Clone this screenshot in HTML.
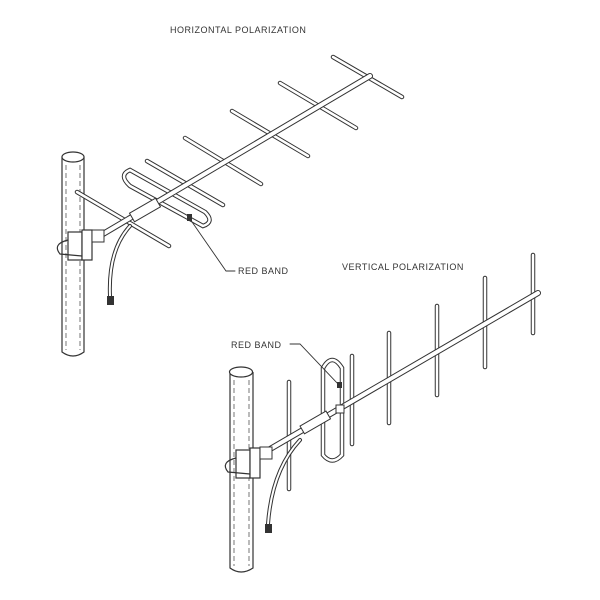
<!DOCTYPE html>
<html><head><style>body{margin:0;background:#fff}svg{display:block}</style></head><body>
<svg width="600" height="600" viewBox="0 0 600 600" xmlns="http://www.w3.org/2000/svg" font-family="Liberation Sans, sans-serif">
<defs>
<style>
.o{stroke:#333;fill:none;stroke-linecap:round}
.i{stroke:#fff;fill:none;stroke-linecap:round}
.t{font-size:9px;fill:#333;letter-spacing:0.5px}
</style>
</defs>
<rect width="600" height="600" fill="#fff"/>
<text class="t" x="170" y="33">HORIZONTAL  POLARIZATION</text>
<text class="t" x="238" y="274">RED  BAND</text>
<text class="t" x="342" y="270">VERTICAL  POLARIZATION</text>
<text class="t" x="231" y="348">RED  BAND</text>

<!-- TOP pole -->
<path d="M62 157 L62 352 Q73 360 84 352 L84 157" fill="#fff" stroke="#333" stroke-width="1.2"/>
<ellipse cx="73" cy="157" rx="11" ry="5" fill="#fff" stroke="#333" stroke-width="1.2"/>
<line x1="66" y1="165" x2="66" y2="350" stroke="#555" stroke-dasharray="5,3" stroke-width="0.8"/>
<line x1="80" y1="165" x2="80" y2="350" stroke="#555" stroke-dasharray="5,3" stroke-width="0.8"/>

<!-- top elements behind boom -->
<g>
<line class="o" stroke-width="4.5" x1="333" y1="57" x2="402" y2="97"/><line class="i" stroke-width="2.5" x1="333" y1="57" x2="402" y2="97"/>
<line class="o" stroke-width="4.5" x1="280" y1="83" x2="356" y2="128"/><line class="i" stroke-width="2.5" x1="280" y1="83" x2="356" y2="128"/>
<line class="o" stroke-width="4.5" x1="232" y1="111" x2="308" y2="156"/><line class="i" stroke-width="2.5" x1="232" y1="111" x2="308" y2="156"/>
<line class="o" stroke-width="4.5" x1="185" y1="138" x2="261" y2="184"/><line class="i" stroke-width="2.5" x1="185" y1="138" x2="261" y2="184"/>
<line class="o" stroke-width="4.5" x1="147" y1="161" x2="223" y2="205"/><line class="i" stroke-width="2.5" x1="147" y1="161" x2="223" y2="205"/>
<!-- folded dipole loop -->
<path class="o" stroke-width="4.5" d="M130 170 L205 212 Q215 222 203 226 L130 186 Q118 175 130 170 Z"/>
<path class="i" stroke-width="2.5" d="M130 170 L205 212 Q215 222 203 226 L130 186 Q118 175 130 170 Z"/>
<line class="o" stroke-width="4.5" x1="77" y1="192" x2="169" y2="246"/><line class="i" stroke-width="2.5" x1="77" y1="192" x2="169" y2="246"/>
</g>
<!-- top boom -->
<line class="o" stroke-width="6" x1="103" y1="234" x2="370" y2="76"/>
<line class="i" stroke-width="4" x1="103" y1="234" x2="370" y2="76"/>
<rect x="130" y="205" width="30" height="10" transform="rotate(-30 145 210)" fill="#fff" stroke="#333"/>
<!-- top mount -->
<rect x="68" y="232" width="14" height="28" fill="#fff" stroke="#333" stroke-width="1.2"/>
<rect x="82" y="230" width="10" height="30" fill="#fff" stroke="#333" stroke-width="1.2"/>
<path d="M68 240 Q52 244 60 254 L82 256" class="o" stroke-width="1.2"/>
<rect x="92" y="230" width="12" height="12" fill="#fff" stroke="#333"/>
<!-- top cable -->
<path d="M130 226 Q108 250 110 296" class="o" stroke-width="4"/>
<path d="M130 226 Q108 250 110 296" class="i" stroke-width="2"/>
<rect x="107" y="296" width="7" height="9" fill="#333"/>
<!-- top leader -->
<path d="M190 219 L226 271 L235 271" class="o" stroke-width="0.9"/>
<rect x="187" y="214" width="5" height="7" fill="#333"/>

<!-- BOTTOM pole -->
<path d="M230 372 L230 568 Q241 576 253 568 L253 372" fill="#fff" stroke="#333" stroke-width="1.2"/>
<ellipse cx="241" cy="372" rx="11.5" ry="5" fill="#fff" stroke="#333" stroke-width="1.2"/>
<line x1="234" y1="380" x2="234" y2="566" stroke="#555" stroke-dasharray="5,3" stroke-width="0.8"/>
<line x1="249" y1="380" x2="249" y2="566" stroke="#555" stroke-dasharray="5,3" stroke-width="0.8"/>

<!-- bottom elements -->
<g>
<line class="o" stroke-width="4.5" x1="533" y1="255" x2="533" y2="333"/><line class="i" stroke-width="2.5" x1="533" y1="255" x2="533" y2="333"/>
<line class="o" stroke-width="4.5" x1="485" y1="278" x2="485" y2="367"/><line class="i" stroke-width="2.5" x1="485" y1="278" x2="485" y2="367"/>
<line class="o" stroke-width="4.5" x1="437" y1="306" x2="437" y2="395"/><line class="i" stroke-width="2.5" x1="437" y1="306" x2="437" y2="395"/>
<line class="o" stroke-width="4.5" x1="389" y1="333" x2="389" y2="423"/><line class="i" stroke-width="2.5" x1="389" y1="333" x2="389" y2="423"/>
<line class="o" stroke-width="4.5" x1="352" y1="356" x2="352" y2="444"/><line class="i" stroke-width="2.5" x1="352" y1="356" x2="352" y2="444"/>
<path class="o" stroke-width="4.5" d="M323 368 Q332 352 342 368 L342 455 Q332 466 323 455 Z"/>
<path class="i" stroke-width="2.5" d="M323 368 Q332 352 342 368 L342 455 Q332 466 323 455 Z"/>
<line class="o" stroke-width="4.5" x1="289" y1="382" x2="289" y2="489"/><line class="i" stroke-width="2.5" x1="289" y1="382" x2="289" y2="489"/>
</g>
<!-- bottom boom -->
<line class="o" stroke-width="6" x1="265" y1="452" x2="538" y2="293"/>
<line class="i" stroke-width="4" x1="265" y1="452" x2="538" y2="293"/>
<rect x="300" y="418" width="30" height="9" transform="rotate(-30 315 422)" fill="#fff" stroke="#333"/>
<rect x="336" y="405" width="8" height="8" fill="#fff" stroke="#333"/>
<!-- bottom mount -->
<rect x="236" y="450" width="14" height="28" fill="#fff" stroke="#333" stroke-width="1.2"/>
<rect x="250" y="448" width="10" height="30" fill="#fff" stroke="#333" stroke-width="1.2"/>
<path d="M236 458 Q220 462 228 472 L250 474" class="o" stroke-width="1.2"/>
<rect x="260" y="447" width="12" height="12" fill="#fff" stroke="#333"/>
<!-- bottom cable -->
<path d="M300 440 Q272 470 268 524" class="o" stroke-width="4"/>
<path d="M300 440 Q272 470 268 524" class="i" stroke-width="2"/>
<rect x="265" y="524" width="7" height="9" fill="#333"/>
<!-- bottom leader -->
<path d="M290 344 L300 344 L339 385" class="o" stroke-width="0.9"/>
<rect x="337" y="382" width="5" height="6" fill="#333"/>
</svg>
</body></html>
